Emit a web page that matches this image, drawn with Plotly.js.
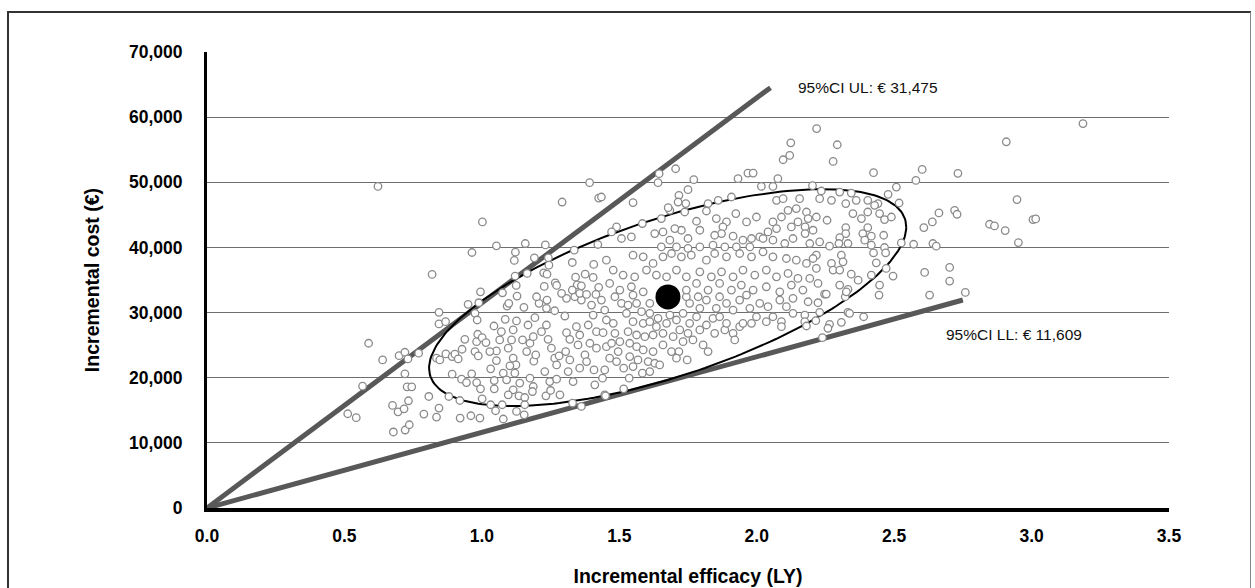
<!DOCTYPE html>
<html>
<head>
<meta charset="utf-8">
<script src="https://cdn.plot.ly/plotly-3.0.1.min.js"></script>
<style>
  html, body { margin: 0; padding: 0; background: #fff; }
  #wrap { position: relative; width: 1255px; height: 588px; overflow: hidden; }
  #chart { position: absolute; left: 0; top: 0; width: 1255px; height: 588px; }
  #frame { position: absolute; left: 7px; top: 11px; width: 1244px; height: 620px;
           border-left: 2px solid #333; border-top: 2px solid #333; border-right: 1px solid #888;
           pointer-events: none; box-sizing: border-box; }
</style>
</head>
<body>
<div id="wrap"><div id="chart"></div><div id="frame"></div></div>
<script>
// Bootstrap replicates: incremental efficacy (LY)
const efficacy = [
0.588,0.639,0.699,0.72,0.731,0.77,0.566,0.72,0.728,0.745,0.733,0.675,0.695,0.717,0.512,0.543,0.678,0.721,0.736,0.622,
0.789,0.807,0.835,0.844,0.844,0.844,0.868,0.95,0.989,0.995,1.075,0.975,0.983,0.835,0.847,0.869,0.892,0.902,0.914,0.928,
0.938,0.975,0.987,0.981,0.985,1.001,1.044,0.892,0.926,0.963,0.944,0.981,0.995,1.001,1.032,1.045,1.045,1.032,1.05,1.074,
1.078,0.88,0.92,0.921,0.96,0.993,1.053,1.078,1.085,1.092,1.098,1.128,1.153,1.126,1.114,1.108,1.096,1.114,1.124,1.102,
1.09,1.12,1.138,1.114,1.096,1.135,1.126,1.154,1.156,1.156,1.148,1.163,1.175,1.187,1.189,1.196,1.168,1.193,1.208,1.237,
1.235,1.265,1.217,1.241,1.253,1.265,1.272,1.281,1.229,1.247,1.272,1.175,1.187,1.184,1.233,1.25,1.284,1.235,1.302,1.308,
1.32,1.305,1.32,1.314,1.332,1.33,1.362,1.344,1.356,1.35,1.375,1.356,1.381,1.411,1.408,1.399,1.405,1.387,1.417,1.393,
1.417,1.338,1.362,1.308,1.29,1.199,1.029,1.065,1.071,1.015,1.053,
1.392,1.425,1.292,1.002,0.964,1.053,1.158,1.231,1.122,1.118,1.191,1.242,1.244,1.336,1.329,1.407,1.422,0.819,1.121,1.165,
1.225,1.237,1.125,1.227,1.267,1.272,1.341,1.376,1.347,1.362,1.405,1.425,1.329,1.356,1.381,1.415,
1.441,1.453,1.465,1.447,1.439,1.447,1.516,1.536,1.516,1.55,1.584,1.611,1.605,1.629,1.647,1.568,1.538,1.49,1.496,1.472,
1.502,1.538,1.563,1.587,1.623,1.659,1.69,1.717,1.708,1.747,1.823,1.805,1.768,1.732,1.696,1.659,1.623,1.593,1.563,1.532,
1.484,1.478,1.453,1.447,1.435,1.484,1.508,1.526,1.563,1.581,1.55,1.587,1.611,1.611,1.641,1.635,1.672,1.684,1.708,1.72,
1.75,1.756,1.781,1.793,1.817,1.841,1.865,1.847,1.884,1.89,1.914,1.92,1.938,1.95,1.981,1.999,2.035,2.059,2.09,2.09,
2.132,2.108,2.084,2.041,2.011,1.975,1.938,1.914,1.89,1.853,1.817,1.793,1.756,1.732,1.744,1.787,1.865,1.963,2.132,1.611,
1.55,1.532,1.45,
2.096,2.12,1.705,1.645,1.641,1.55,1.771,1.932,1.968,1.987,2.017,2.059,2.077,1.75,1.717,1.742,1.714,1.684,1.678,1.653,
1.584,1.738,1.781,1.823,1.817,1.86,1.908,1.924,1.999,1.853,1.89,1.963,2.072,2.096,2.114,2.144,2.09,2.059,2.072,2.126,
2.15,2.041,2.011,1.981,1.95,1.914,1.877,1.872,1.847,1.841,1.884,1.926,1.975,2.023,2.059,2.102,2.132,1.793,1.75,1.726,
1.702,1.659,1.629,1.684,1.653,1.708,1.75,1.793,1.544,1.508,1.49,1.472,1.435,1.55,1.587,1.623,1.659,1.69,1.726,1.762,
1.817,1.847,1.89,1.938,1.981,2.023,2.059,2.108,2.144,1.453,1.478,1.514,1.556,1.599,1.635,1.672,1.708,1.744,1.793,1.835,
1.872,1.914,1.95,1.993,2.035,2.072,2.114,2.15,1.465,1.502,1.544,1.587,1.744,1.781,1.823,1.865,1.908,1.944,1.987,2.035,
2.084,2.126,
2.278,2.425,2.602,2.732,2.579,2.203,2.235,2.302,2.344,2.478,2.508,2.229,2.272,2.324,2.362,2.404,2.441,2.518,2.156,2.181,
2.187,2.217,2.256,2.35,2.381,2.404,2.429,2.447,2.465,2.49,2.663,2.72,2.729,2.639,2.608,2.847,2.865,2.176,2.176,2.205,
2.324,2.324,2.302,2.386,2.404,2.417,2.393,2.462,2.332,2.299,2.265,2.229,2.193,2.526,2.571,2.641,2.653,2.417,2.465,2.469,
2.425,2.435,2.308,2.314,2.272,2.217,2.205,2.181,2.217,2.278,2.302,2.344,2.369,2.417,2.471,2.496,2.447,2.445,2.611,2.702,
2.702,2.629,2.759,2.193,2.223,2.302,2.332,2.247,2.322,2.168,
2.175,2.175,2.181,2.215,2.229,2.265,2.259,2.308,2.332,2.338,2.389,2.239,2.187,2.223,2.253,2.326,
3.187,2.908,2.293,2.218,2.124,2.947,2.904,3.005,3.015,2.952
];
// Bootstrap replicates: incremental cost (€)
const cost = [
25290,22730,23390,23910,22890,23760,18700,20590,18600,18600,16460,15740,14770,15230,14470,13860,11670,11970,12780,49370,
14420,17120,13960,15340,30040,28250,28600,31260,31510,33190,33040,29880,28860,23000,22730,23650,23240,23610,22890,24370,
25900,24010,23350,25540,26670,26150,27940,20540,19780,20590,19260,19260,18300,16760,21360,19570,18300,15850,14930,15850,
13660,17120,16500,13810,14160,13810,24110,20700,28970,31000,31420,32530,30800,28710,27330,25800,24530,23000,21970,21820,
19670,20700,19170,18140,17380,17220,14820,14310,16960,15850,25800,24010,25290,26300,22540,23500,28090,29210,31420,31920,
30650,30280,27070,25900,24530,23000,21970,23350,20950,19410,19780,19930,18650,17880,17220,18040,17380,28090,29470,26920,
25900,24010,22730,20950,19410,16110,15590,27830,26560,25030,23500,21460,22470,18910,21200,31150,29620,28090,27070,25290,
24530,32430,31920,32180,32950,32430,24010,25800,27070,25390,22630,
49940,47580,46970,43910,39220,40240,40600,40390,39270,38000,38400,38400,37280,39580,37690,37390,40450,35860,35600,36010,
36100,35900,34170,34020,34570,34170,35440,35900,34260,34110,35400,33870,33450,32950,32790,32790,
26920,24770,23000,21200,19930,17380,18300,19930,21460,21710,20700,20950,22470,22220,21970,22730,23240,22470,24010,25290,
25540,25290,24770,24270,24010,25030,24010,24010,23000,22730,24010,25030,25800,25540,26300,26820,26560,26300,26560,27070,
26820,28350,28860,30390,31920,32430,31420,29880,31420,30130,28600,28350,28600,29880,29120,27830,28350,29620,28860,27330,
26820,28350,29360,27330,28090,29120,29360,26820,27330,28350,26820,25800,27830,28350,28350,29360,28600,29360,28600,27830,
29880,30900,31920,30900,31420,30650,31920,30390,31420,30650,31920,30650,31420,29880,32430,32430,32430,32690,32180,31420,
32690,31150,17220,
53460,54120,52080,51320,49940,46880,50400,50550,51410,51410,49370,49370,50550,48870,48000,46730,46970,45700,46110,44430,
43670,45440,44020,46730,45590,47230,47740,45190,44670,44430,43910,43910,47230,47490,45700,45960,44670,43910,42900,43140,
43910,42380,41610,41370,41110,41720,43140,42130,41870,40340,40080,40080,40080,41370,41110,40600,41370,42640,41370,42640,
42900,42380,42130,41110,40080,40080,39840,40080,41610,41370,43140,42380,47740,38810,38550,37540,38550,39070,38550,38810,
38050,39070,38550,39070,38550,39320,38550,38300,38050,38050,36520,35750,35490,36520,35750,35490,36520,35490,36260,35490,
36260,35490,36520,35750,36520,35490,36010,35240,34480,33450,33960,33190,33450,34480,33450,34480,33450,34220,33450,33960,
33190,34220,
53200,51470,51980,51370,50290,49480,48660,48500,48350,48150,49270,47490,47230,46730,47230,47230,46730,46820,47490,45440,
44430,44670,44170,45190,44430,45440,46470,45190,44280,44670,45290,45700,45090,43910,43050,43560,43300,43140,42130,42640,
43050,42130,41520,42130,43050,41720,41110,41870,40600,40600,40190,40850,40600,40690,40490,40600,40190,40340,39990,39160,
39160,37630,38810,37790,37540,38810,38300,37540,36780,36520,36520,35900,34980,35750,36780,35600,34220,32690,36160,36930,
34830,32690,33100,35240,34480,34220,33560,32840,32430,33450,
29620,28600,27940,28750,30040,28200,27590,28510,30040,29880,29360,26150,31660,31510,32840,33190,
59020,56220,55760,58250,56060,47340,42590,44280,44370,40750
];
// Mean of the replicates
const meanEfficacy = [1.677];
const meanCost = [32400];
// ICER 95% CI bounds (€/LY) and the extent of each drawn line (LY)
const ciUpper = 31475, ciUpperEnd = 2.05;
const ciLower = 11609, ciLowerEnd = 2.75;
// Confidence ellipse parameters (centre, semi-extents, correlation)
const ellCx = 1.676, ellCy = 32300, ellSx = 0.868, ellSy = 16650, ellR = 0.65;
const xTicks = [0, 0.5, 1.0, 1.5, 2.0, 2.5, 3.0, 3.5];
const yTicks = [0, 10000, 20000, 30000, 40000, 50000, 60000, 70000];

const fmt = n => n.toLocaleString('en-US');

const ex = [], ey = [];
for (let i = 0; i <= 240; i++) {
  const t = 2 * Math.PI * i / 240;
  ex.push(ellCx + ellSx * Math.cos(t));
  ey.push(ellCy + ellSy * (ellR * Math.cos(t) + Math.sqrt(1 - ellR * ellR) * Math.sin(t)));
}

const lineStyle = {color: '#585858', width: 5};
const traces = [
  {x: [0, ciUpperEnd], y: [0, ciUpperEnd * ciUpper], mode: 'lines', line: lineStyle, hoverinfo: 'skip'},
  {x: [0, ciLowerEnd], y: [0, ciLowerEnd * ciLower], mode: 'lines', line: lineStyle, hoverinfo: 'skip'},
  {x: ex, y: ey, mode: 'lines', line: {color: '#000', width: 2}, hoverinfo: 'skip'},
  {x: efficacy, y: cost, mode: 'markers', type: 'scatter',
   marker: {symbol: 'circle', size: 7.5, color: '#ffffff', line: {color: '#8a8a8a', width: 1.3}}},
  {x: meanEfficacy, y: meanCost, mode: 'markers', marker: {size: 25, color: '#000'}}
];

const fam = 'Liberation Sans, Arial, sans-serif';
const tickFont = {family: fam, size: 17.5, color: '#000', weight: 'bold'};
const titleFont = {family: fam, size: 19.5, color: '#000', weight: 'bold'};
const layout = {
  width: 1255, height: 588,
  margin: {l: 207, r: 86, t: 52, b: 80},
  paper_bgcolor: '#fff', plot_bgcolor: '#fff',
  showlegend: false,
  font: {family: fam, color: '#000'},
  xaxis: {
    range: [0, 3.5], tickvals: xTicks, ticktext: xTicks.map(v => v.toFixed(1)),
    showgrid: false, zeroline: false, showline: true, linecolor: '#000', linewidth: 4,
    ticks: '', tickfont: tickFont, ticklabelstandoff: 9,
    title: {text: 'Incremental efficacy (LY)', font: titleFont, standoff: 25}
  },
  yaxis: {
    range: [0, 70000], tickvals: yTicks, ticktext: yTicks.map(fmt),
    showgrid: true, gridcolor: '#6e6e6e', gridwidth: 1,
    zeroline: false, showline: true, linecolor: '#000', linewidth: 3,
    ticks: '', tickfont: tickFont, ticklabelstandoff: 18,
    title: {text: 'Incremental cost (€)', font: titleFont, standoff: 25}
  },
  annotations: [
    {x: 2.142, y: 64580, xref: 'x', yref: 'y', xanchor: 'left', yanchor: 'middle', showarrow: false,
     text: '95%CI UL: € ' + fmt(ciUpper), font: {family: fam, size: 15.5, color: '#111'}},
    {x: 2.68, y: 26670, xref: 'x', yref: 'y', xanchor: 'left', yanchor: 'middle', showarrow: false,
     text: '95%CI LL: € ' + fmt(ciLower), font: {family: fam, size: 15.5, color: '#111'}}
  ]
};

Plotly.newPlot('chart', traces, layout, {displayModeBar: false, staticPlot: true});
</script>
</body>
</html>
